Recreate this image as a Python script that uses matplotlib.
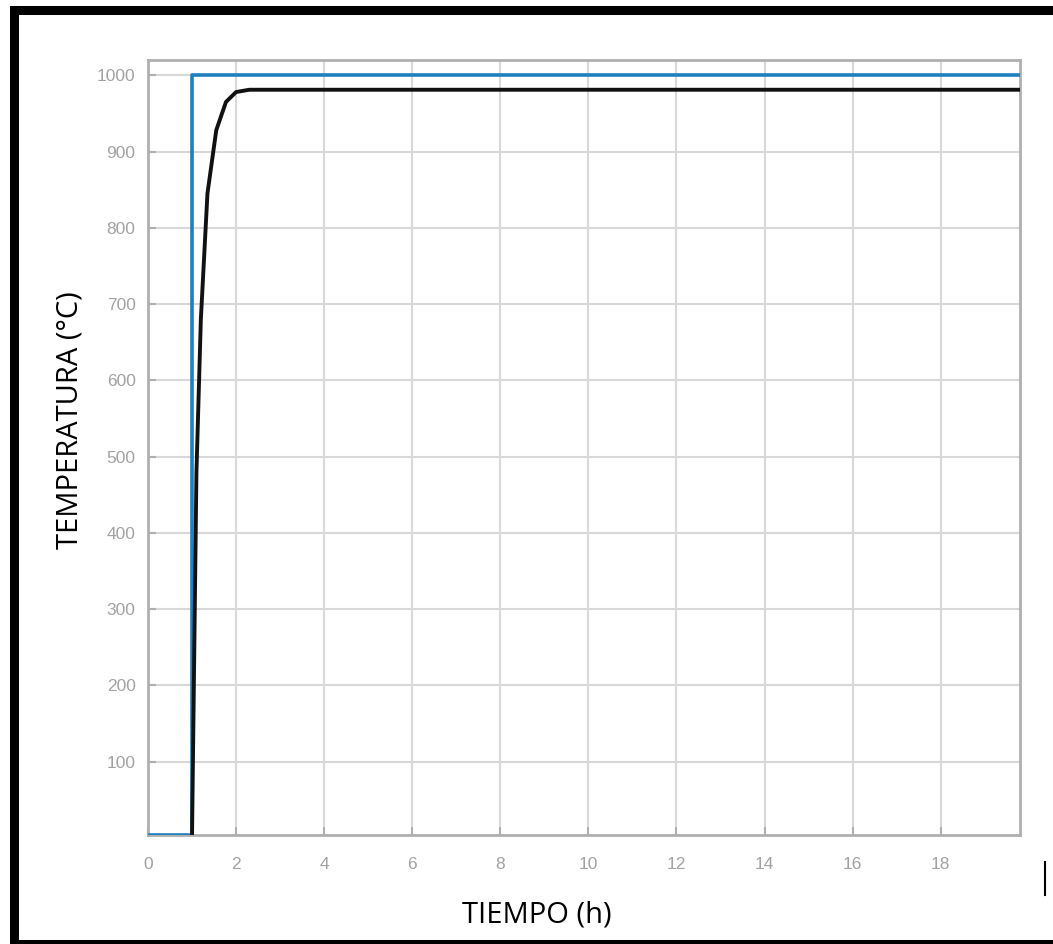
# Temperature response of the furnace vs setpoint
import matplotlib
matplotlib.use('Agg')
import matplotlib.pyplot as plt
import matplotlib.patches as patches
import numpy as np

# setpoint (step)
t_set = [0, 1, 1, 19.8]
T_set = [4, 4, 1000, 1000]

# measured temperature
t_temp = [1.0, 1.1, 1.2, 1.35, 1.55, 1.77, 2.0, 2.3, 2.7, 19.8]
T_temp = [4, 480, 680, 845, 928, 965, 978, 981, 981, 981]

xticks = np.arange(0, 19, 2)
yticks = np.arange(100, 1001, 100)

plt.rcParams['font.family'] = ['Open Sans', 'DejaVu Sans']

W, H = 1053, 944
fig = plt.figure(figsize=(W / 100, H / 100), dpi=100)
ax = fig.add_axes([148 / W, 1 - 835 / H, 872 / W, 775 / H])

ax.plot(t_set, T_set, color='#1f80bd', lw=2.6, zorder=3)
ax.plot(t_temp, T_temp, color='#111111', lw=2.8, zorder=4)

ax.set_xlim(0, 19.8)
ax.set_ylim(4, 1020)
ax.set_xticks(xticks)
ax.set_yticks(yticks)
ax.grid(True, color='#d8d8d8', lw=1.5)
ax.set_axisbelow(True)
for s in ax.spines.values():
    s.set_color('#b0b0b0')
    s.set_linewidth(2)
ax.tick_params(direction='in', length=6, width=1.5, color='#b0b0b0',
               labelcolor='#a2a2a2', labelsize=12.5)
ax.tick_params(axis='x', pad=16)
ax.tick_params(axis='y', pad=9)
for lab in ax.get_xticklabels() + ax.get_yticklabels():
    lab.set_family(['Liberation Sans', 'DejaVu Sans'])

ax.set_xlabel('TIEMPO (h)', fontsize=21, color='black', va='center')
ax.xaxis.set_label_coords((537 - 148) / 872, -(915 - 835) / 775)
ax.set_ylabel('TEMPERATURA (°C)', fontsize=21, color='black', va='center')
ax.yaxis.set_label_coords((70 - 148) / 872, (835 - 420) / 775)

# outer black frame
fig.patches.append(patches.Rectangle((14 / W, 1 - 944 / H), 1200 / W, (944 - 9.5) / H,
                                     transform=fig.transFigure, fill=False,
                                     edgecolor='black', lw=6.5))
# little cursor mark
fig.add_artist(plt.Line2D([1045 / W, 1045 / W], [1 - 895 / H, 1 - 862 / H],
                          transform=fig.transFigure, color='black', lw=1.5))

fig.savefig('out.png', dpi=100)
